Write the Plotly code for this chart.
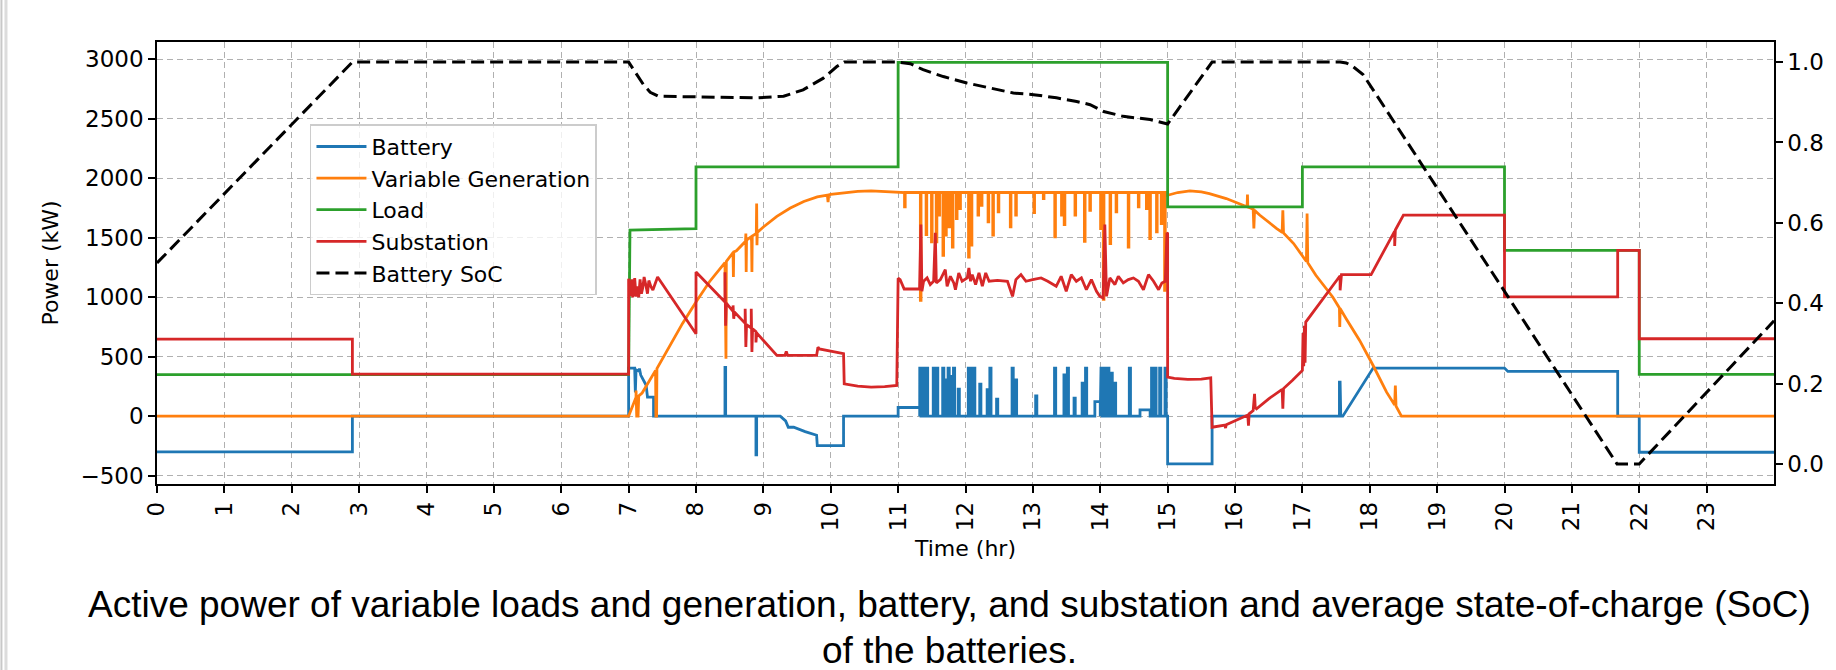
import plotly.graph_objects as go

# ---------------- data ----------------
# Load (green)
load_t = [0, 7.0, 7.02, 8.0, 8.0, 11.0, 11.0, 15.0, 15.0, 17.0, 17.0, 20.0, 20.0, 22.0, 22.0, 24.0]
load_p = [350, 350, 1563, 1577, 2096, 2096, 2974, 2974, 1759, 1759, 2096, 2096, 1394, 1394, 351, 351]

# Battery (blue) outside the 11-15 h window
bat_pre_t = [0, 2.9, 2.9, 7.0, 7.0, 7.09, 7.10, 7.11, 7.15, 7.16, 7.18, 7.21, 7.26, 7.28, 7.37, 7.37,
             8.43, 8.43, 8.44, 8.44, 8.89, 8.89, 8.90, 8.90, 9.25, 9.33, 9.37, 9.45, 9.62, 9.79, 9.80,
             10.19, 10.19, 11.0]
bat_pre_p = [-300, -300, 0, 0, 404, 404, 200, 390, 380, 400, 345, 310, 260, 160, 160, 0,
             0, 410, 410, 0, 0, -325, -325, 0, 0, -40, -93, -93, -130, -160, -247,
             -247, 0, 0]
# Battery 11-15 h: level steps and narrow pulses
bat_step_a = [11.0, 13.92, 14.59]
bat_step_b = [11.32, 14.0, 14.74]
bat_step_v = [73, 123, 53]
bat_spk_t = [11.33, 11.38, 11.43, 11.53, 11.58, 11.67, 11.70, 11.75, 11.78, 11.83, 11.90, 12.05,
             12.10, 12.13, 12.22, 12.33, 12.37, 12.47, 12.70, 12.75, 13.05, 13.33, 13.47, 13.52,
             13.62, 13.74, 13.79, 14.02, 14.07, 14.12, 14.17, 14.22, 14.44, 14.77, 14.82, 14.89,
             14.97]
bat_spk_p = [404, 404, 404, 404, 404, 404, 306, 404, 334, 404, 227, 404,
             404, 404, 269, 222, 404, 143, 404, 306, 171, 404, 348, 404,
             151, 278, 404, 404, 404, 404, 362, 278, 404, 404, 404, 404,
             404]
bat_post_t = [15.0, 15.66, 15.66, 17.55, 17.55, 17.56, 17.57, 17.60, 18.05, 20.0, 20.05, 21.68, 21.68,
              22.0, 22.0, 24.0]
bat_post_p = [-401, -401, 0, 0, 286, 286, 0, 0, 404, 404, 376, 376, 0,
              0, -303, -303]

# Variable generation (orange)
gen_pre_t = [0, 7.0, 7.11, 7.11, 7.12, 7.14, 7.15, 7.2, 7.4, 7.405, 7.415, 7.42, 7.6, 7.8, 8.0, 8.2,
             8.43, 8.435, 8.445, 8.45, 8.55, 8.555, 8.56, 8.6, 8.735, 8.74, 8.745, 8.75, 8.82, 8.825,
             8.83, 8.835, 8.895, 8.9, 8.905, 8.91, 9.0, 9.2, 9.4, 9.6, 9.8, 9.95, 9.96, 9.97, 10.0,
             10.2, 10.4, 10.6, 10.8, 11.0]
gen_pre_p = [0, 0, 160, 216, 0, 0, 170, 195, 385, 0, 0, 400, 580, 780, 960, 1130,
             1290, 483, 483, 1300, 1375, 1170, 1380, 1390, 1470, 1535, 1212, 1480, 1510, 1465,
             1212, 1515, 1535, 1787, 1437, 1545, 1590, 1680, 1750, 1805, 1843, 1858, 1800, 1860, 1865,
             1880, 1890, 1894, 1890, 1880]
gen_mid_level = 1880
gen_spk_t = [11.10, 11.335, 11.42, 11.50, 11.57, 11.61, 11.67, 11.71, 11.76, 11.81, 11.87, 11.92,
             12.05, 12.09, 12.19, 12.24, 12.34, 12.41, 12.49, 12.67, 12.75, 13.02, 13.16, 13.33,
             13.43, 13.47, 13.63, 13.77, 13.85, 14.01, 14.05, 14.15, 14.24, 14.42, 14.57, 14.69,
             14.74, 14.84, 14.91, 14.96]
gen_spk_p = [1759, 974, 1526, 1465, 1465, 1690, 1352, 1521, 1591, 1422, 1661, 1745,
             1338, 1437, 1690, 1773, 1633, 1521, 1717, 1591, 1690, 1712, 1829, 1507,
             1690, 1611, 1690, 1470, 1731, 1577, 982, 1450, 1717, 1422, 1759, 1745,
             1493, 1549, 1619, 1058]
gen_post_t = [15.0, 15.15, 15.33, 15.5, 15.62, 15.87, 16.12, 16.18, 16.185, 16.19, 16.27, 16.28, 16.29,
              16.37, 16.62, 16.70, 16.71, 16.72, 16.87, 17.0, 17.06, 17.07, 17.08, 17.2, 17.45, 17.55,
              17.555, 17.56, 17.65, 17.85, 18.05, 18.25, 18.37, 18.38, 18.39, 18.47, 24.0]
gen_post_p = [1857, 1880, 1894, 1885, 1871, 1829, 1773, 1760, 1863, 1760, 1740, 1577, 1730,
              1689, 1577, 1545, 1731, 1540, 1451, 1352, 1300, 1703, 1290, 1184, 1002, 910,
              749, 905, 819, 637, 426, 202, 95, 258, 85, 0, 0]

# Substation (red)
sub_t = [0, 2.9, 2.9, 7.0, 7.0, 7.02, 7.03, 7.05, 7.06, 7.08, 7.09, 7.11, 7.13, 7.15, 7.17, 7.19,
         7.21, 7.23, 7.26, 7.28, 7.30, 7.33, 7.36, 7.43, 8.0, 8.0, 8.43, 8.43, 8.44, 8.45, 8.55,
         8.55, 8.56, 8.57, 8.73, 8.73, 8.74, 8.75, 8.82, 8.82, 8.83, 8.84, 8.89, 8.89, 8.90, 9.2,
         9.32, 9.34, 9.36, 9.79, 9.81, 9.83, 10.19, 10.2, 10.4, 10.6, 10.8, 10.98, 11.0,
         11.03, 11.09, 11.318, 11.338, 11.353, 11.378, 11.43, 11.477, 11.527, 11.552, 11.567,
         11.627, 11.70, 11.727, 11.776, 11.826, 11.851, 11.90, 11.95, 12.026, 12.05, 12.075,
         12.10, 12.15, 12.20, 12.25, 12.30, 12.35, 12.474, 12.623, 12.698, 12.748, 12.823,
         12.897, 12.997, 13.122, 13.221, 13.346, 13.42, 13.495, 13.57, 13.645, 13.72, 13.794,
         13.869, 13.944, 13.994, 14.043, 14.068, 14.093, 14.143, 14.218, 14.268, 14.342,
         14.417, 14.492, 14.567, 14.641, 14.716, 14.791, 14.866, 14.915, 14.965, 14.99,
         15.0, 15.0, 15.1, 15.3, 15.5, 15.64, 15.66, 15.85, 15.86, 15.87, 16.0, 16.12, 16.19,
         16.2, 16.21, 16.27, 16.29, 16.30, 16.32, 16.5, 16.70, 16.71, 16.72, 16.85, 17.0, 17.01,
         17.02, 17.03, 17.04, 17.05, 17.56, 17.56, 17.57, 17.58, 18.02, 18.37, 18.37, 18.38,
         18.5, 20.0, 20.0, 21.68, 21.68, 22.0, 22.0, 24.0]
sub_p = [648, 648, 353, 353, 1156, 1090, 1010, 1150, 1000, 1040, 1160, 1005, 1090, 1000, 1150, 1030,
         1080, 1170, 1090, 1030, 1140, 1090, 1060, 1170, 693, 1212, 960, 1210, 760, 950, 880,
         931, 819, 875, 780, 903, 581, 770, 740, 903, 539, 735, 710, 620, 700, 511,
         511, 545, 511, 511, 580, 565, 525, 272, 252, 244, 248, 258, 1160,
         1148, 1069, 1069, 1611, 1050, 1134, 1162, 1106, 1134, 1541, 1120,
         1148, 1232, 1092, 1176, 1120, 1063, 1204, 1134, 1162, 1246, 1134,
         1190, 1106, 1204, 1092, 1204, 1134, 1141, 1134, 1007, 1148, 1190,
         1134, 1148, 1162, 1134, 1092, 1176, 1050, 1190, 1134, 1162, 1063,
         1148, 1050, 1007, 993, 1611, 1007, 1162, 1106, 1176, 1120,
         1148, 1162, 1134, 1063, 1190, 1134, 1063, 1120, 1134, 1541,
         1535, 328, 318, 310, 312, 322, -93, -75, -100, -72, -40, -8, 10,
         -79, 20, 48, 188, 76, 62, 146, 225, 62, 232, 300, 384, 700,
         420, 760, 450, 791, 1180, 1058, 1185, 1190, 1190, 1555, 1431, 1565,
         1690, 1690, 1002, 1002, 1394, 1394, 651, 651]

# Average battery state of charge (black dashed, right axis)
soc_t = [0, 2.9, 7.0, 7.12, 7.22, 7.32, 7.44, 8.9, 9.3, 9.59, 9.89, 10.09, 10.2, 11.0, 11.18, 11.37,
         11.67, 12.02, 12.51, 12.71, 13.01, 13.35, 13.65, 13.85, 14.05, 14.34, 14.74, 15.0, 15.66,
         17.56, 17.65, 17.75, 17.9, 18.05, 21.67, 22.0, 24.0]
soc_v = [0.5, 1.0, 1.0, 0.969, 0.944, 0.925, 0.915, 0.911, 0.915, 0.931, 0.96, 0.989, 1.0, 1.0, 0.996,
         0.981, 0.964, 0.948, 0.931, 0.923, 0.919, 0.911, 0.902, 0.894, 0.877, 0.865, 0.857, 0.846,
         1.0, 1.0, 0.998, 0.989, 0.969, 0.931, 0.0, 0.0, 0.356]

x_ticks = list(range(0, 24))
y_ticks = [-500, 0, 500, 1000, 1500, 2000, 2500, 3000]
soc_ticks = [0.0, 0.2, 0.4, 0.6, 0.8, 1.0]
soc_ticktext = ["0.0", "0.2", "0.4", "0.6", "0.8", "1.0"]

caption1 = "Active power of variable loads and generation, battery, and substation and average state-of-charge (SoC)"
caption2 = "of the batteries."


# ---------------- helpers ----------------
def step_series(t0, t1, seg_a, seg_b, seg_v, default, spk_t, spk_v, w):
    bps = {t0, t1}
    for a, b in zip(seg_a, seg_b):
        bps.update([a, b])
    for s in spk_t:
        bps.update([s - w, s + w])
    bps = sorted(b for b in bps if t0 <= b <= t1)
    xs, ys = [], []
    for lo, hi in zip(bps[:-1], bps[1:]):
        mid = 0.5 * (lo + hi)
        v = default
        for a, b, lv in zip(seg_a, seg_b, seg_v):
            if a <= mid < b:
                v = lv
        for s, sv in zip(spk_t, spk_v):
            if s - w <= mid < s + w:
                v = sv
        xs += [lo, hi]
        ys += [v, v]
    return xs, ys


bx, by = step_series(11.0, 15.0, bat_step_a, bat_step_b, bat_step_v, 0, bat_spk_t, bat_spk_p, 0.009)
bat_t = bat_pre_t + bx + bat_post_t
bat_p = bat_pre_p + by + bat_post_p

gx, gy = step_series(11.0, 15.0, [], [], [], gen_mid_level, gen_spk_t, gen_spk_p, 0.005)
gen_t = gen_pre_t + gx + gen_post_t
gen_p = gen_pre_p + gy + gen_post_p

# ---------------- figure ----------------
FONT = "DejaVu Sans"
LW = 2.8
TICK_SIZE = 23

fig = go.Figure()
fig.add_trace(go.Scatter(x=bat_t, y=bat_p, mode="lines", name="Battery",
                         line=dict(color="#1f77b4", width=LW)))
fig.add_trace(go.Scatter(x=gen_t, y=gen_p, mode="lines", name="Variable Generation",
                         line=dict(color="#ff7f0e", width=LW)))
fig.add_trace(go.Scatter(x=load_t, y=load_p, mode="lines", name="Load",
                         line=dict(color="#2ca02c", width=LW)))
fig.add_trace(go.Scatter(x=sub_t, y=sub_p, mode="lines", name="Substation",
                         line=dict(color="#d62728", width=LW)))
fig.add_trace(go.Scatter(x=soc_t, y=soc_v, mode="lines", name="Battery SoC", yaxis="y2",
                         line=dict(color="black", width=3, dash="13px,6px")))

axis_common = dict(
    ticks="outside", ticklen=7, tickwidth=1.5, tickcolor="black",
    tickfont=dict(family=FONT, size=TICK_SIZE, color="black"),
    zeroline=False,
)

fig.update_layout(
    width=1836, height=670,
    margin=dict(l=157, r=62, t=42, b=186),
    paper_bgcolor="white", plot_bgcolor="white",
    font=dict(family=FONT, size=22, color="black"),
    showlegend=True,
    legend=dict(
        x=0.0946, y=0.814, xanchor="left", yanchor="top",
        bgcolor="rgba(255,255,255,0.8)", bordercolor="#cccccc", borderwidth=1.5,
        font=dict(family=FONT, size=22, color="black"),
        itemwidth=50, tracegroupgap=0,
    ),
    xaxis=dict(
        range=[0, 24], tickmode="array", tickvals=x_ticks, tickangle=-90,
        showline=True, linecolor="black", linewidth=1.5, mirror=True,
        showgrid=True, gridcolor="#b0b0b0", gridwidth=1.4, griddash="6px,4px",
        title=dict(text="Time (hr)", font=dict(family=FONT, size=22, color="black"), standoff=10),
        **axis_common,
    ),
    yaxis=dict(
        range=[-570, 3145], tickmode="array", tickvals=y_ticks,
        showline=True, linecolor="black", linewidth=1.5, mirror=True,
        showgrid=True, gridcolor="#b0b0b0", gridwidth=1.4, griddash="6px,4px",
        title=dict(text="Power (kW)", font=dict(family=FONT, size=22, color="black"), standoff=16),
        **axis_common,
    ),
    yaxis2=dict(
        overlaying="y", side="right", range=[-0.05, 1.05],
        tickmode="array", tickvals=soc_ticks, ticktext=soc_ticktext,
        showgrid=False, showline=True, linecolor="black", linewidth=1.5,
        **axis_common,
    ),
)

# caption below the chart
fig.add_annotation(text=caption1, xref="paper", yref="paper", x=0.49, y=-0.2715,
                   xanchor="center", yanchor="middle", showarrow=False,
                   font=dict(family="Liberation Sans", size=37, color="black"))
fig.add_annotation(text=caption2, xref="paper", yref="paper", x=0.49, y=-0.3756,
                   xanchor="center", yanchor="middle", showarrow=False,
                   font=dict(family="Liberation Sans", size=37, color="black"))

# page frame lines at the far left
fig.add_shape(type="line", xref="paper", yref="paper", x0=-0.0962, x1=-0.0962, y0=-0.43, y1=1.1,
              line=dict(color="#c8c8c8", width=2))
fig.add_shape(type="line", xref="paper", yref="paper", x0=-0.0934, x1=-0.0934, y0=-0.43, y1=1.1,
              line=dict(color="#dcdcdc", width=3))

fig.write_html("out.html")
